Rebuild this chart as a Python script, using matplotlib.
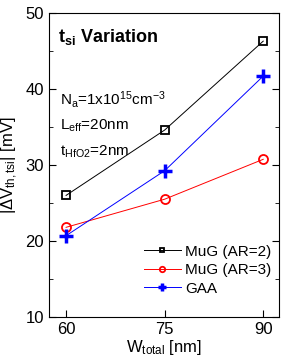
import numpy as np
from matplotlib import pyplot as plt

plt.rcParams['font.family'] = ['Liberation Sans', 'DejaVu Sans']
plt.rcParams['mathtext.fontset'] = 'custom'
plt.rcParams['mathtext.rm'] = 'Liberation Sans'
plt.rcParams['mathtext.bf'] = 'Liberation Sans:bold'
plt.rcParams['mathtext.it'] = 'Liberation Sans:italic'

w_total = [60, 75, 90]
mug_ar2 = [26.0, 34.6, 46.3]
mug_ar3 = [21.8, 25.5, 30.75]
gaa = [20.7, 29.25, 41.7]


def main():
    fig = plt.figure(figsize=(2.85, 3.62), dpi=100)
    ax = fig.add_axes([49 / 285, 45 / 362, 230 / 285, 304 / 362])

    ax.plot(w_total, mug_ar2, '-s', color='black', lw=0.7, ms=5.5, mfc='none',
            mew=1.3, label='MuG (AR=2)')
    ax.plot(w_total, mug_ar3, '-o', color='red', lw=0.7, ms=6.5, mfc='none',
            mew=1.3, label='MuG (AR=3)')
    ax.plot(w_total, gaa, '-+', color='blue', lw=0.7, ms=9.5, mew=2.5,
            label='GAA')

    ax.set_xlim(57.4, 92.4)
    ax.set_ylim(10, 50)
    ax.set_xticks([60, 75, 90])
    ax.set_yticks([10, 20, 30, 40, 50])
    ax.set_yticks([15, 25, 35, 45], minor=True)
    ax.tick_params(axis='both', which='both', direction='in', labelsize=12,
                   right=True)
    ax.tick_params(which='major', length=5)
    ax.tick_params(which='minor', length=3)

    ax.set_xlabel(r'W$_{\mathrm{total}}$ [nm]', fontsize=12, labelpad=1)
    ax.set_ylabel(r'|$\Delta$V$_{\mathrm{th,tsi}}$| [mV]', fontsize=12,
                  labelpad=4)

    ax.text(0.04, 0.955, r't$_{\mathbf{si}}$ Variation', transform=ax.transAxes,
            fontsize=13, fontweight='bold', va='top')
    ax.text(0.05, 0.70, r'N$_{\mathrm{a}}$=1x10$^{15}$cm$^{-3}$',
            transform=ax.transAxes, fontsize=11)
    ax.text(0.05, 0.615, r'L$_{\mathrm{eff}}$=20nm', transform=ax.transAxes,
            fontsize=11)
    ax.text(0.05, 0.53, r't$_{\mathrm{HfO2}}$=2nm', transform=ax.transAxes,
            fontsize=11)

    ax.legend(loc='lower right', bbox_to_anchor=(1.0, 0.045), frameon=False,
              fontsize=11, handlelength=2.4, markerscale=0.6,
              borderaxespad=0.1, labelspacing=0.3, handletextpad=0.3)

    fig.savefig('out.png', dpi=100)


if __name__ == '__main__':
    main()
